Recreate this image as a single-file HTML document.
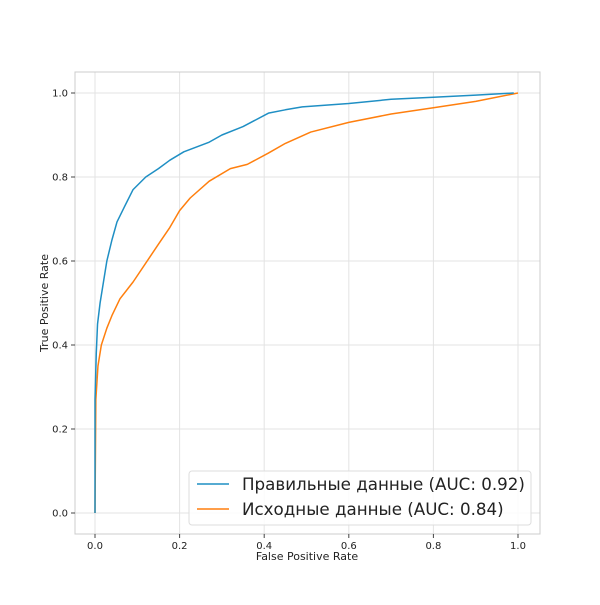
<!DOCTYPE html>
<html><head><meta charset="utf-8"><style>
body{margin:0;background:#fff;}
svg text{font-family:"DejaVu Sans","Liberation Sans",sans-serif;}
</style></head><body>
<svg width="600" height="600" viewBox="0 0 600 600" xmlns="http://www.w3.org/2000/svg">
<rect x="0" y="0" width="600" height="600" fill="#fff"/>
<g id="grid"></g>
<rect x="75" y="72" width="465" height="462" fill="none" stroke="#ccc" stroke-width="1"/>
<g id="ticks"></g>
<g id="series"></g>
<text x="307" y="560" font-size="11" text-anchor="middle" fill="#222">False Positive Rate</text>
<text x="48" y="303" font-size="11" text-anchor="middle" fill="#222" transform="rotate(-90 48 303)">True Positive Rate</text>
<g>
<rect x="189" y="471" width="342" height="54" rx="3" fill="#fff" fill-opacity="0.85" stroke="#ddd"/>
<g>
<line x1="197" y1="484" x2="229" y2="484" stroke="#1f8fc4" stroke-width="1.5"/>
<text x="242" y="490" font-size="16.7" fill="#222">Правильные данные (AUC: 0.92)</text>
</g>
<g>
<line x1="197" y1="509" x2="229" y2="509" stroke="#ff7f0e" stroke-width="1.5"/>
<text x="242" y="515" font-size="16.7" fill="#222">Исходные данные (AUC: 0.84)</text>
</g>
</g>
</svg>
<script>
const xTicks=[0,0.2,0.4,0.6,0.8,1.0];
const yTicks=[0,0.2,0.4,0.6,0.8,1.0];
const blueFpr=[0,0,0.003,0.006,0.012,0.02,0.028,0.04,0.052,0.07,0.09,0.12,0.15,0.177,0.21,0.27,0.3,0.35,0.41,0.45,0.49,0.6,0.7,0.8,0.9,0.99];
const blueTpr=[0,0.27,0.38,0.45,0.5,0.55,0.6,0.65,0.693,0.73,0.77,0.80,0.82,0.84,0.86,0.883,0.9,0.92,0.952,0.96,0.967,0.975,0.985,0.99,0.995,1];
const orangeFpr=[0,0.002,0.007,0.015,0.028,0.04,0.059,0.09,0.13,0.15,0.177,0.2,0.225,0.27,0.32,0.36,0.41,0.45,0.51,0.6,0.7,0.8,0.9,1.0];
const orangeTpr=[0,0.27,0.35,0.4,0.44,0.47,0.51,0.55,0.61,0.64,0.68,0.72,0.75,0.79,0.82,0.83,0.857,0.88,0.907,0.93,0.95,0.965,0.98,1];
const NS="http://www.w3.org/2000/svg";
const xs=v=>95+v*423, ys=v=>513-v*420;
const grid=document.getElementById('grid'),ticks=document.getElementById('ticks'),series=document.getElementById('series');
function mk(tag,attrs,parent){const e=document.createElementNS(NS,tag);for(const k in attrs)e.setAttribute(k,attrs[k]);parent.appendChild(e);return e;}
xTicks.forEach(v=>{
 const g=mk('line',{x1:xs(v),x2:xs(v),y1:72,y2:534,stroke:'#e3e3e3','stroke-width':1},grid);
 
 
 mk('line',{x1:xs(v),x2:xs(v),y1:534,y2:538,stroke:'#444'},ticks);
 const t=mk('text',{x:xs(v),y:549,'font-size':10,'text-anchor':'middle',fill:'#222'},ticks);
 t.textContent=v.toFixed(1);
 
 
});
yTicks.forEach(v=>{
 const g=mk('line',{x1:75,x2:540,y1:ys(v),y2:ys(v),stroke:'#e3e3e3','stroke-width':1},grid);
 
 
 mk('line',{x1:71,x2:75,y1:ys(v),y2:ys(v),stroke:'#444'},ticks);
 const t=mk('text',{x:68,y:ys(v)+3.5,'font-size':10,'text-anchor':'end',fill:'#222'},ticks);
 t.textContent=v.toFixed(1);
 
 
});
function draw(fx,ty,color,name){
 let d='';
 for(let i=0;i<fx.length;i++){
  d+=(i===0?'M':'L')+xs(fx[i])+','+ys(ty[i]);
 }
 const p=mk('path',{d:d,fill:'none',stroke:color,'stroke-width':1.5,'stroke-linejoin':'round'},series);
 
 
}
draw(orangeFpr,orangeTpr,'#ff7f0e','orange-roc-line');
draw(blueFpr,blueTpr,'#1f8fc4','blue-roc-line');
</script>
</body></html>
